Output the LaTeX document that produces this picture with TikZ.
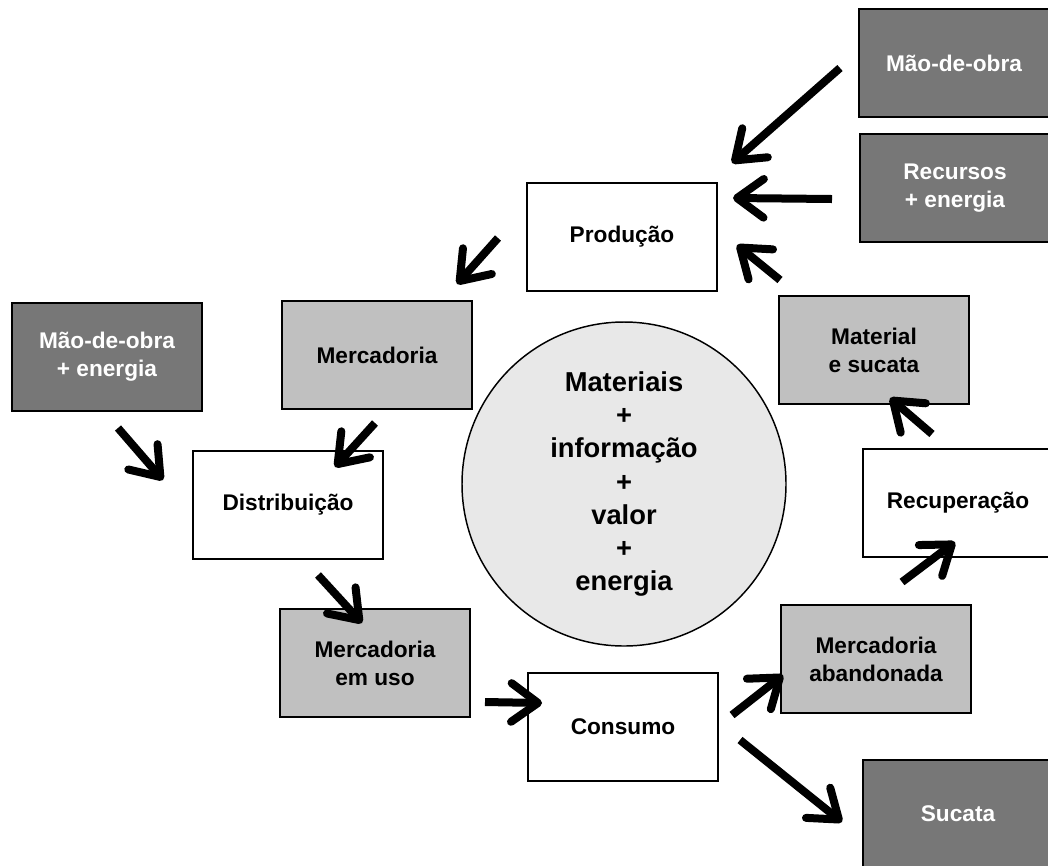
\documentclass[tikz,border=0pt]{standalone}
\usepackage{fontspec}
\setmainfont{Liberation Sans}
\usetikzlibrary{arrows.meta,positioning}
\definecolor{inputgray}{HTML}{777777}
\definecolor{goodsgray}{HTML}{C0C0C0}
\definecolor{hubgray}{HTML}{E8E8E8}

\begin{document}
\begin{tikzpicture}[x=0.75pt,y=-0.75pt,align=center]
\tikzstyle{stage}=[rectangle,draw=black,line width=1.5pt,minimum width=143pt,minimum height=81pt,inner sep=0pt,font=\fontsize{17}{21}\selectfont\bfseries]
\tikzstyle{process}=[stage,fill=white]
\tikzstyle{goods}=[stage,fill=goodsgray]
\tikzstyle{input}=[stage,fill=inputgray,text=white]
\tikzstyle{flow}=[line width=6pt,-{Straight Barb[length=20pt,width=29pt,round]}]

\path[use as bounding box,clip] (0,0) rectangle (1048,865);

\node[circle,draw=black,line width=1.1pt,fill=hubgray,minimum size=243pt,inner sep=0pt,
      font=\fontsize{20.5}{24.9}\selectfont\bfseries] (hub) at (624,484)
      {Materiais\\+\\informação\\+\\valor\\+\\energia};

\node[input] (labour) at (954,63) {Mão-de-obra};
\node[input] (resources) at (955,188) {Recursos\\+ energia};
\node[process] (prod) at (622,237) {Produção};
\node[goods] (goods) at (377,355) {Mercadoria};
\node[input] (labourenergy) at (107,357) {Mão-de-obra\\+ energia};
\node[goods] (scrapmat) at (874,350) {Material\\e sucata};
\node[process] (dist) at (288,505) {Distribuição};
\node[process] (recov) at (958,503) {Recuperação};
\node[goods] (inuse) at (375,663) {Mercadoria\\em uso};
\node[goods] (dropped) at (876,659) {Mercadoria\\abandonada};
\node[process] (cons) at (623,727) {Consumo};
\node[input] (scrap) at (958,814) {Sucata};

% loose ends of the flows
\coordinate (labour-out) at (840,68);
\coordinate (prod-in1) at (732,163);
\coordinate (resources-out) at (832,199);
\coordinate (prod-in2) at (733,198);
\coordinate (scrapmat-out) at (780,280);
\coordinate (prod-in3) at (737,245);
\coordinate (prod-out) at (498,238);
\coordinate (goods-in) at (457,284);
\coordinate (labourenergy-out) at (118,428);
\coordinate (dist-in1) at (163,480);
\coordinate (goods-out) at (375,423);
\coordinate (dist-in2) at (335,467);
\coordinate (dist-out) at (318,575);
\coordinate (inuse-in) at (362,623);
\coordinate (inuse-out) at (485,702);
\coordinate (cons-in) at (542,703);
\coordinate (cons-out1) at (732,715);
\coordinate (dropped-in) at (783,675);
\coordinate (cons-out2) at (740,740);
\coordinate (scrap-in) at (842,822);
\coordinate (dropped-out) at (902,582);
\coordinate (recov-in) at (955,542);
\coordinate (recov-out) at (932,434);
\coordinate (scrapmat-in) at (890,398);

\path
  (labour-out) edge [flow] (prod-in1)
  (resources-out) edge [flow] (prod-in2)
  (scrapmat-out) edge [flow] (prod-in3)
  (prod-out) edge [flow] (goods-in)
  (labourenergy-out) edge [flow] (dist-in1)
  (goods-out) edge [flow] (dist-in2)
  (dist-out) edge [flow] (inuse-in)
  (inuse-out) edge [flow] (cons-in)
  (cons-out1) edge [flow] (dropped-in)
  (cons-out2) edge [flow] (scrap-in)
  (dropped-out) edge [flow] (recov-in)
  (recov-out) edge [flow] (scrapmat-in);
\end{tikzpicture}
\end{document}
